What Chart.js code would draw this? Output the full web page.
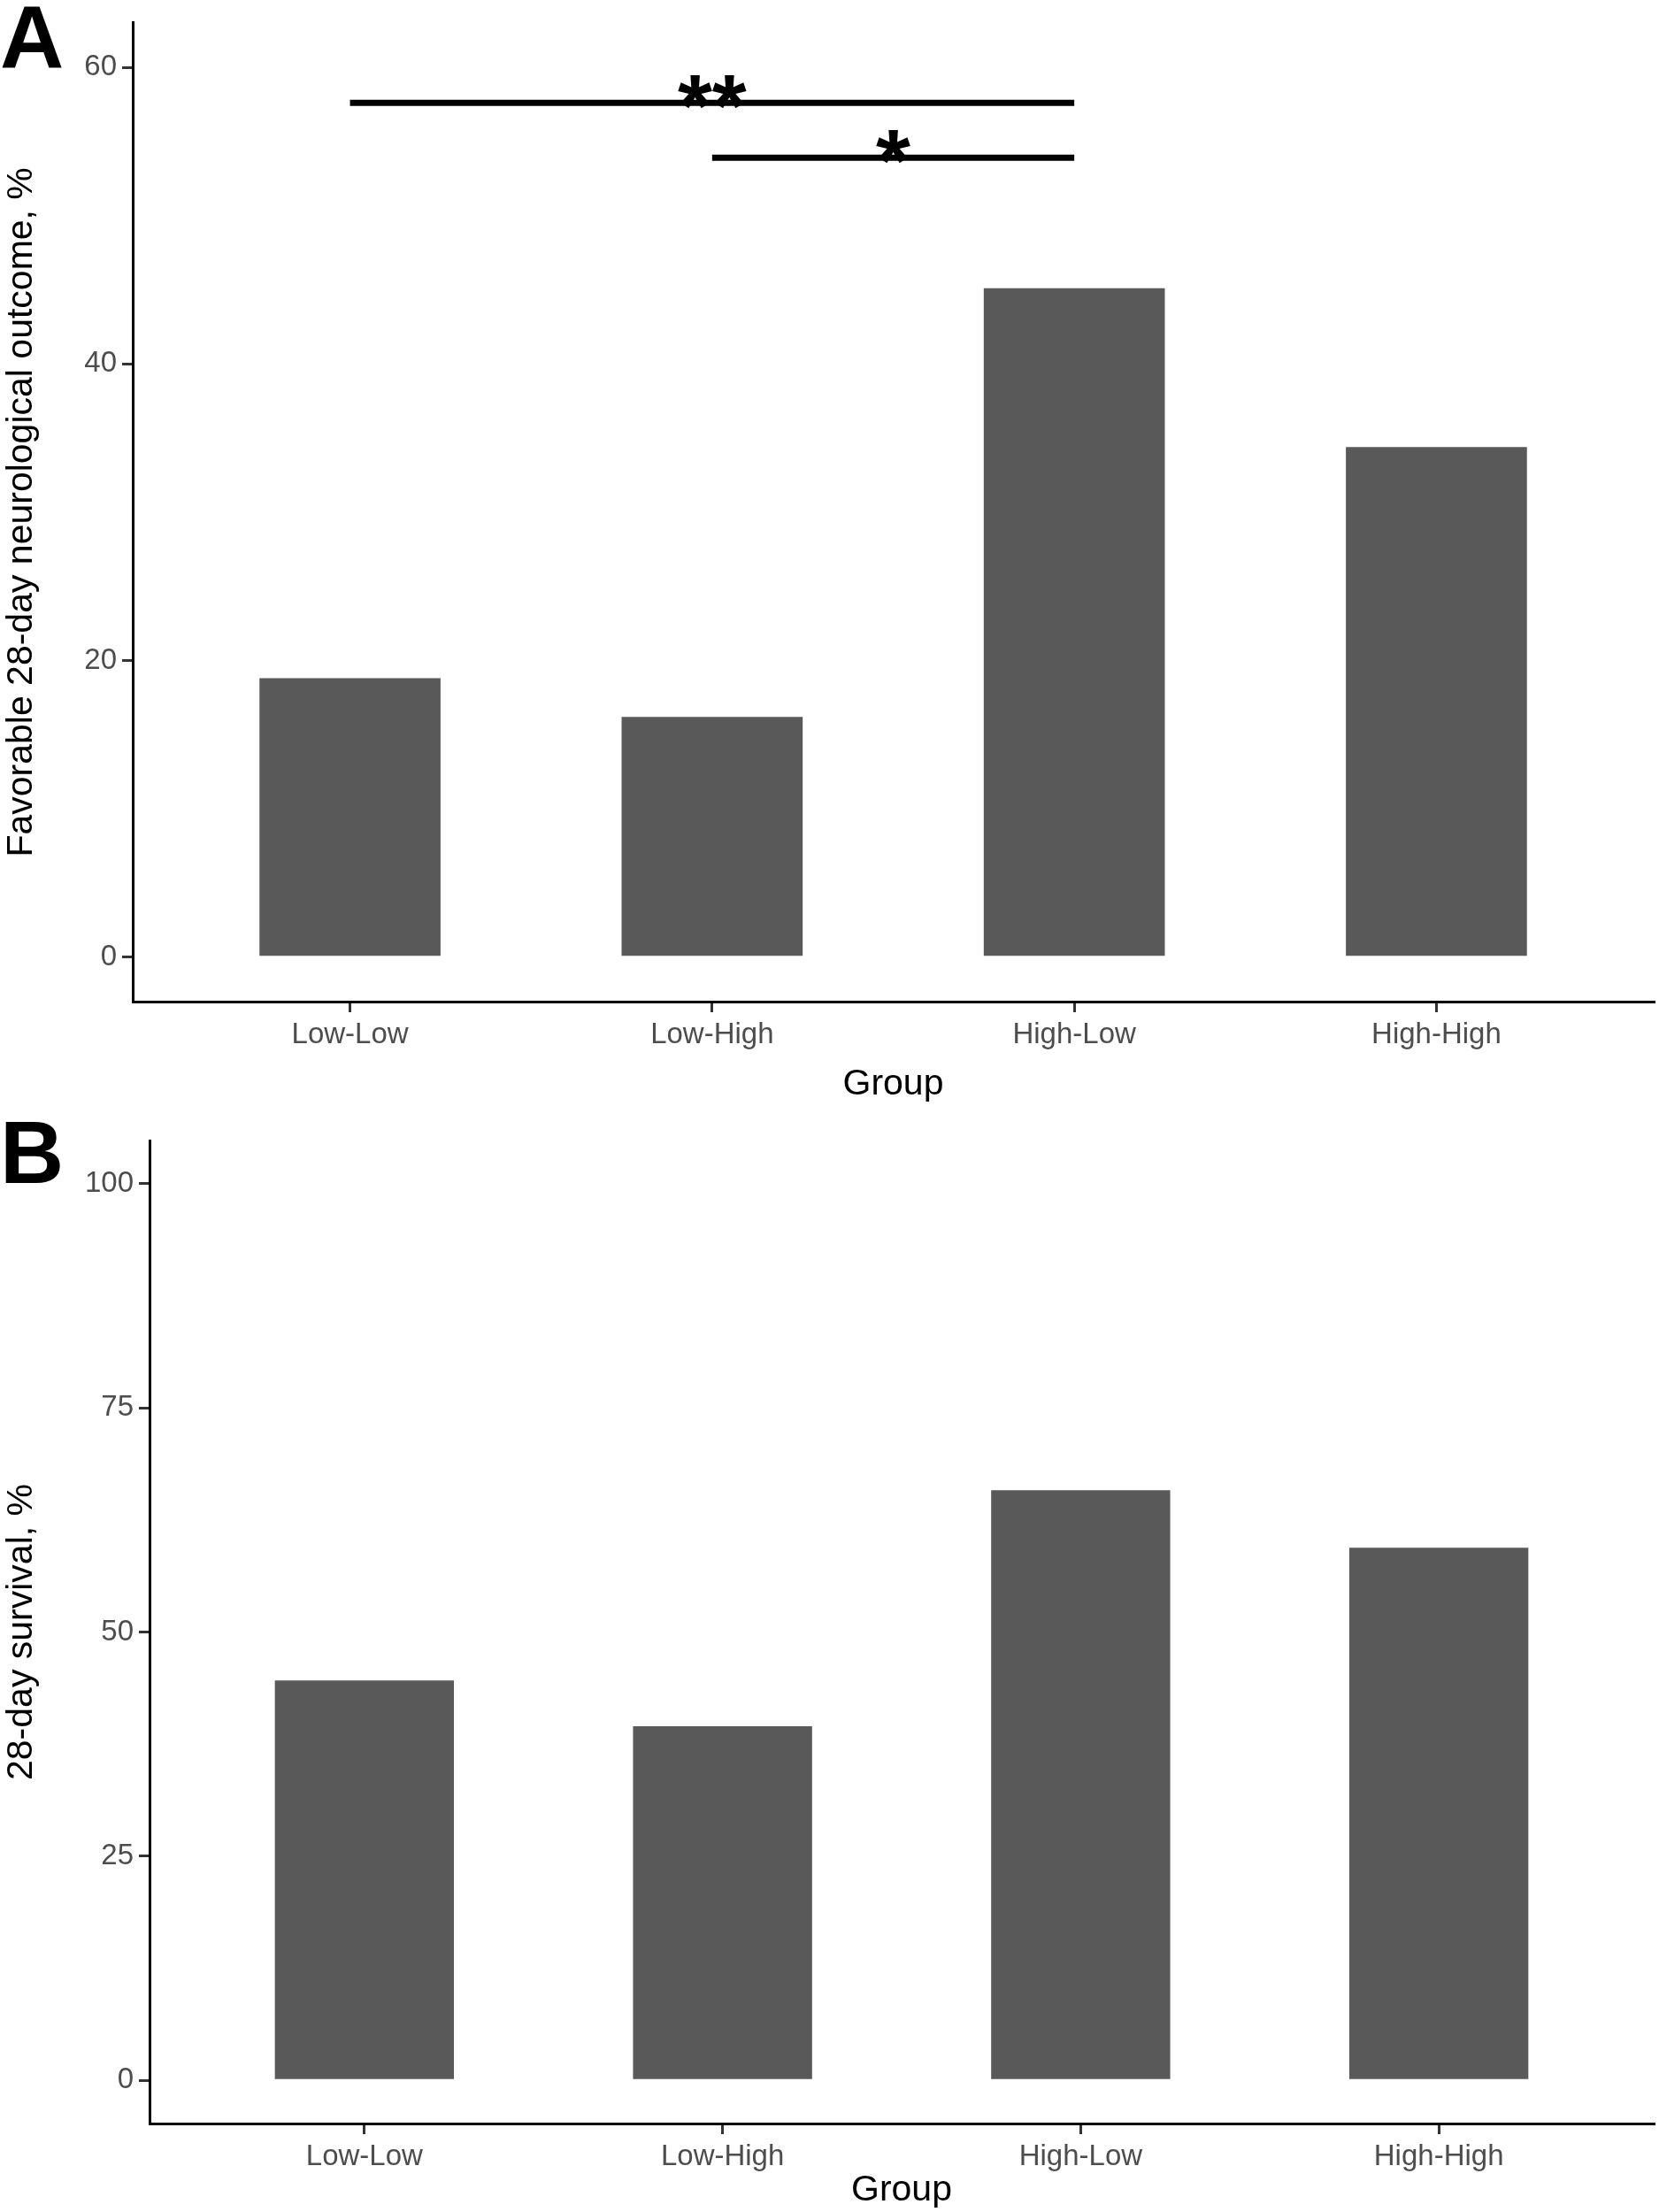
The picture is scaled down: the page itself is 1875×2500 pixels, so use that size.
<!DOCTYPE html>
<html>
<head>
<meta charset="UTF-8">
<script src="https://cdn.jsdelivr.net/npm/chart.js"></script>
<style>
  body { margin: 0; background: #fff; width: 1875px; height: 2500px; position: relative; font-family: "Liberation Sans", Arial, sans-serif; }
  .box { position: absolute; left: 0; width: 1875px; }
  .letter { position: absolute; left: 0; font-weight: bold; font-size: 100px; line-height: 1; color: #000; }
</style>
</head>
<body>
<div class="box" style="top:0;height:1250px"><canvas id="chartA"></canvas></div>
<div class="box" style="top:1260px;height:1240px"><canvas id="chartB"></canvas></div>
<div class="letter" style="top:-8px">A</div>
<div class="letter" style="top:1252px">B</div>
<script>
  // dados
  var grupos = ['Low-Low', 'Low-High', 'High-Low', 'High-High']
  var neuro = [18.8, 16.2, 45.1, 34.4]
  var sobrevida = [44.6, 39.5, 65.8, 59.4]
  var ticksA = [0, 20, 40, 60]
  var ticksB = [0, 25, 50, 75, 100]
  // barras de significância (painel A)
  var sigDe = [0, 1]
  var sigAte = [2, 2]
  var sigY = [57.6, 53.9]
  var sigTexto = ['**', '*']

  var fonte = '"Liberation Sans", Arial, sans-serif'

  // asteriscos sobre as linhas
  var pluginSig = {
    id: 'sig',
    afterDatasetsDraw: function (chart) {
      if (chart.canvas.id != 'chartA') return
      var ctx = chart.ctx
      ctx.save()
      ctx.fillStyle = '#000'
      ctx.font = 'bold 100px ' + fonte
      ctx.textAlign = 'center'
      ctx.textBaseline = 'alphabetic'
      for (var i = 0; i < sigY.length; i++) {
        var x = chart.scales.x.getPixelForValue((sigDe[i] + sigAte[i]) / 2)
        var y = chart.scales.y.getPixelForValue(sigY[i])
        ctx.fillText(sigTexto[i], x, y + 38)
      }
      ctx.restore()
    }
  }

  function montar(id, valores, ticks, ymin, ymax, titulo, largY, altX, padTop, extra) {
    var datasets = [{
      type: 'bar',
      data: valores.map(function (v, i) { return { x: i, y: v } }),
      backgroundColor: '#595959',
      barPercentage: 0.5,
      categoryPercentage: 1
    }]
    for (var i = 0; i < extra.length; i++) datasets.push(extra[i])

    return new Chart(document.getElementById(id), {
      data: { datasets: datasets },
      options: {
        responsive: true,
        maintainAspectRatio: false,
        animation: false,
        layout: { padding: { top: padTop, right: 6, left: 0, bottom: 0 } },
        plugins: { legend: { display: false }, tooltip: { enabled: false } },
        scales: {
          x: {
            type: 'linear', min: -0.6, max: 3.6, offset: false,
            afterBuildTicks: function (s) { s.ticks = grupos.map(function (g, i) { return { value: i } }) },
            afterFit: function (s) { s.height = altX },
            ticks: { callback: function (v) { return grupos[v] }, color: '#4d4d4d', font: { size: 33, family: fonte }, padding: 6, maxRotation: 0 },
            grid: { offset: false, drawOnChartArea: false, drawTicks: true, tickLength: 12, color: '#333', lineWidth: 3 },
            border: { color: '#000', width: 3 },
            title: { display: true, text: 'Group', color: '#000', font: { size: 41, family: fonte }, padding: 0 }
          },
          y: {
            min: ymin, max: ymax,
            afterBuildTicks: function (s) { s.ticks = ticks.map(function (v) { return { value: v } }) },
            afterFit: function (s) { s.width = largY },
            ticks: { color: '#4d4d4d', font: { size: 33, family: fonte }, padding: 6 },
            grid: { drawOnChartArea: false, drawTicks: true, tickLength: 12, color: '#333', lineWidth: 3 },
            border: { color: '#000', width: 3 },
            title: { display: true, text: titulo, color: '#000', font: { size: 41, family: fonte }, padding: 0 }
          }
        }
      },
      plugins: [pluginSig]
    })
  }

  var linhas = []
  for (var i = 0; i < sigY.length; i++) {
    linhas.push({
      type: 'line',
      data: [{ x: sigDe[i], y: sigY[i] }, { x: sigAte[i], y: sigY[i] }],
      borderColor: '#000', borderWidth: 7, pointRadius: 0, fill: false
    })
  }

  montar('chartA', neuro, ticksA, -3.0, 63.0, 'Favorable 28-day neurological outcome, %', 150, 118, 24, linhas)
  montar('chartB', sobrevida, ticksB, -4.8, 104.8, '28-day survival, %', 169, 100, 29, [])
</script>
</body>
</html>
